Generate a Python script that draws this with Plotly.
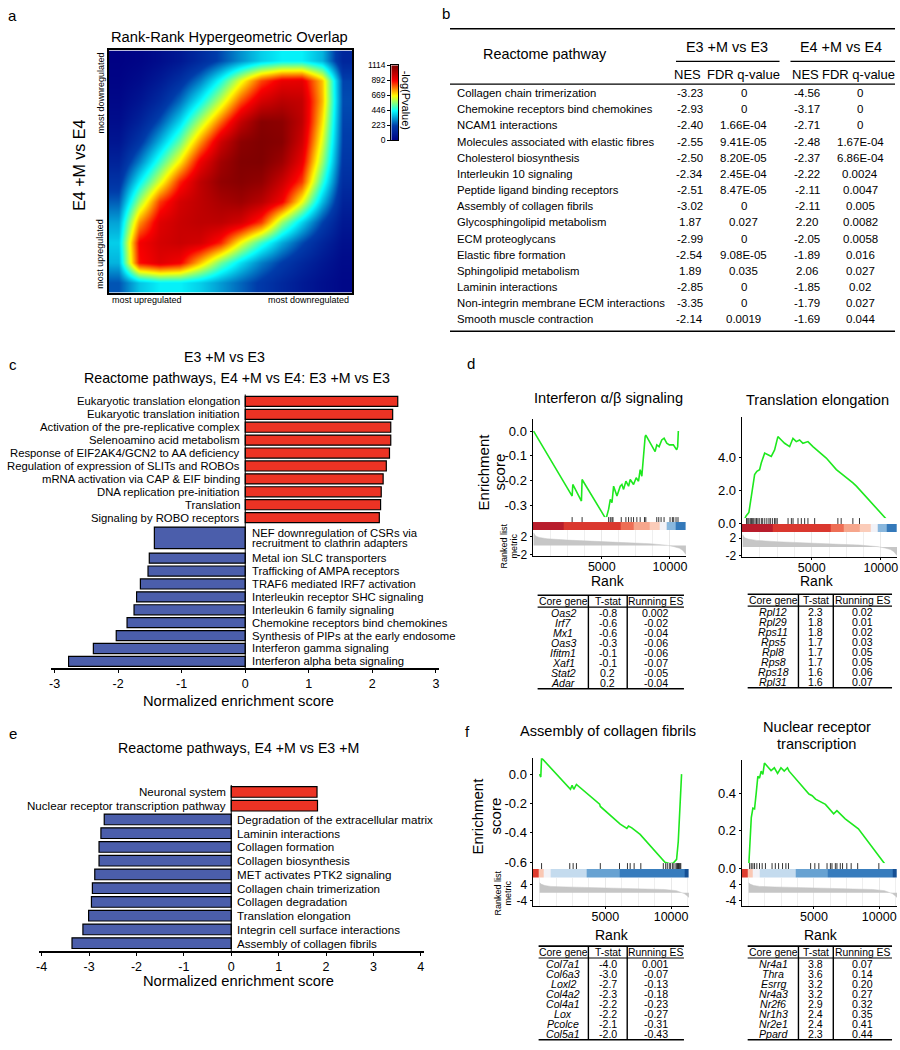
import plotly.graph_objects as go

W, H = 900, 1050
FONT = "Liberation Sans, Arial, Helvetica, sans-serif"

# ---------------- a: RRHO map (-log P), rows bottom -> top
rrho_grid = [
    [250, 380, 430, 430, 390, 330, 270, 210, 150, 100, 60, 30],
    [360, 880, 940, 900, 720, 540, 410, 300, 220, 150, 90, 40],
    [390, 900, 960, 980, 960, 860, 660, 490, 350, 240, 140, 60],
    [340, 760, 940, 980, 1000, 1000, 960, 840, 580, 400, 230, 90],
    [260, 580, 840, 960, 1000, 1040, 1060, 1010, 900, 660, 370, 130],
    [190, 430, 640, 860, 1000, 1080, 1100, 1080, 980, 840, 490, 170],
    [130, 300, 490, 680, 910, 1050, 1110, 1114, 1060, 920, 580, 200],
    [80, 200, 360, 530, 760, 970, 1090, 1114, 1100, 970, 640, 220],
    [50, 130, 250, 400, 600, 800, 990, 1100, 1090, 1000, 690, 230],
    [30, 80, 160, 280, 440, 620, 820, 960, 1010, 990, 730, 240],
    [15, 45, 100, 180, 300, 460, 650, 830, 920, 930, 720, 230],
    [5, 20, 50, 90, 160, 240, 320, 390, 430, 430, 360, 140],
]
cbar_ticks = [0, 223, 446, 669, 892, 1114]

# ---------------- b: table
b_pathways = ["Collagen chain trimerization", "Chemokine receptors bind chemokines",
              "NCAM1 interactions", "Molecules associated with elastic fibres",
              "Cholesterol biosynthesis", "Interleukin 10 signaling",
              "Peptide ligand binding receptors", "Assembly of collagen fibrils",
              "Glycosphingolipid metabolism", "ECM proteoglycans", "Elastic fibre formation",
              "Sphingolipid metabolism", "Laminin interactions",
              "Non-integrin membrane ECM interactions", "Smooth muscle contraction"]
b_nes_e3 = ["-3.23", "-2.93", "-2.40", "-2.55", "-2.50", "-2.34", "-2.51", "-3.02",
            "1.87", "-2.99", "-2.54", "1.89", "-2.85", "-3.35", "-2.14"]
b_fdr_e3 = ["0", "0", "1.66E-04", "9.41E-05", "8.20E-05", "2.45E-04", "8.47E-05", "0",
            "0.027", "0", "9.08E-05", "0.035", "0", "0", "0.0019"]
b_nes_e4 = ["-4.56", "-3.17", "-2.71", "-2.48", "-2.37", "-2.22", "-2.11", "-2.11",
            "2.20", "-2.05", "-1.89", "2.06", "-1.85", "-1.79", "-1.69"]
b_fdr_e4 = ["0", "0", "0", "1.67E-04", "6.86E-04", "0.0024", "0.0047", "0.005",
            "0.0082", "0.0058", "0.016", "0.027", "0.02", "0.027", "0.044"]

# ---------------- c: NES bars
c_labels = ["Eukaryotic translation elongation", "Eukaryotic translation initiation",
            "Activation of the pre-replicative complex", "Selenoamino acid metabolism",
            "Response of EIF2AK4/GCN2 to AA deficiency",
            "Regulation of expression of SLITs and ROBOs",
            "mRNA activation via CAP & EIF binding", "DNA replication pre-initiation",
            "Translation", "Signaling by ROBO receptors",
            "NEF downregulation of CSRs via<br>recruitment to clathrin adapters",
            "Metal ion SLC transporters", "Trafficking of AMPA receptors",
            "TRAF6 mediated IRF7 activation", "Interleukin receptor SHC signaling",
            "Interleukin 6 family signaling", "Chemokine receptors bind chemokines",
            "Synthesis of PIPs at the early endosome", "Interferon gamma signaling",
            "Interferon alpha beta signaling"]
c_nes = [2.40, 2.32, 2.29, 2.29, 2.27, 2.22, 2.17, 2.14, 2.13, 2.11,
         -1.43, -1.51, -1.53, -1.65, -1.71, -1.75, -1.86, -2.03, -2.39, -2.78]

# ---------------- e: NES bars
e_labels = ["Neuronal system", "Nuclear receptor transcription pathway",
            "Degradation of the extracellular matrix", "Laminin interactions",
            "Collagen formation", "Collagen biosynthesis", "MET activates PTK2 signaling",
            "Collagen chain trimerization", "Collagen degradation", "Translation elongation",
            "Integrin cell surface interactions", "Assembly of collagen fibrils"]
e_nes = [1.81, 1.82, -2.68, -2.75, -2.79, -2.79, -2.88, -2.93, -2.95, -3.01, -3.13, -3.36]

# ---------------- d: GSEA (E3 +M vs E3 ranked list)
ifn_rank = [0, 2826, 2875, 3507, 3556, 5259, 5308, 5502, 5624, 5746, 5867, 6111, 6354,
            6476, 6597, 6768, 6963, 7084, 7328, 7522, 7692, 7814, 7936, 8179, 8228, 8909,
            9031, 9201, 9396, 9566, 9761, 9955, 10247, 10490, 10563, 10612]
ifn_es = [0.0, -0.263, -0.216, -0.283, -0.196, -0.349, -0.356, -0.316, -0.276, -0.29,
          -0.223, -0.263, -0.223, -0.216, -0.236, -0.203, -0.223, -0.196, -0.216, -0.189,
          -0.203, -0.156, -0.183, -0.023, -0.016, -0.083, -0.056, -0.063, -0.036, -0.029,
          -0.049, -0.056, -0.056, -0.076, -0.063, 0.0]
ifn_hits = [2826, 3556, 5502, 5624, 5746, 5819, 6427, 6768, 6963, 7157, 7328, 7571, 7814,
            8130, 8228, 9031, 9177, 9347, 9566, 10004, 10174, 10272, 10442, 10588]

tl_rank = [0, 260, 450, 625, 745, 865, 1030, 1225, 1345, 1590, 1830, 2070, 2310, 2550,
           2795, 3035, 3400, 3640, 3880, 4120, 4360, 4725, 5085, 6050, 6780, 7260, 7980,
           8230, 10650]
tl_es = [0.0, 0.44, 0.64, 1.64, 2.24, 2.94, 3.14, 3.24, 3.64, 4.24, 4.14, 4.04, 4.44,
         5.24, 5.04, 4.84, 4.64, 5.14, 4.94, 5.04, 4.84, 4.94, 4.64, 3.94, 3.24, 2.94,
         2.44, 2.24, 0.0]
tl_hits = [280, 370, 450, 550, 630, 700, 800, 900, 1000, 1100, 1200, 1350, 1450, 1600,
           1750, 1900, 2000, 2150, 2300, 2400, 2500, 3285, 3525, 3645, 4005, 4245, 4485,
           4725, 5210, 6890, 7130, 7975, 8455]

d_band_edges = [-70, 2200, 6370, 7340, 8490, 9275, 9760, 10420, 11170]
d_band_levels = [0.97, 0.82, 0.6, 0.4, 0.24, 0.0, -0.24, -0.6]
d_metric_rank = [0, 150, 400, 1000, 2500, 4000, 5600, 7000, 8500, 9300, 9800, 10300,
                 10700, 10950, 11170]
d_metric_val = [2.8, 2.1, 1.8, 1.5, 1.2, 0.95, 0.76, 0.6, 0.42, 0.25, 0.05, -0.25,
                -0.6, -1.1, -2.0]

# ---------------- f: GSEA (E4 +M vs E3 +M ranked list)
col_rank = [0, 90, 150, 2220, 2347, 2473, 2599, 2801, 4567, 4618, 6005, 6132, 6637, 6762,
            7015, 7394, 7646, 9538, 9917, 10169, 10421, 10547, 10724, 10800]
col_es = [0.0, -0.02, 0.11, -0.092, -0.103, -0.076, -0.103, -0.07, -0.204, -0.22, -0.328,
          -0.34, -0.37, -0.354, -0.366, -0.393, -0.41, -0.60, -0.61, -0.605, -0.58,
          -0.46, -0.08, 0.0]
col_hits = [150, 2294, 2551, 2801, 4618, 6079, 6684, 6889, 7191, 7699, 9410, 9591, 9712,
            9864, 9970, 10121, 10220, 10371, 10440, 10500, 10560, 10620, 10680, 10740]

nr_rank = [0, 83, 204, 327, 454, 580, 706, 833, 961, 1088, 1211, 1461, 1718, 1968, 2218,
           2475, 2725, 2975, 3100, 4618, 4868, 5125, 5375, 5881, 6510, 6760, 7396, 7896,
           8403, 10674]
nr_es = [0.0, 0.14, 0.27, 0.32, 0.316, 0.40, 0.49, 0.48, 0.517, 0.50, 0.56, 0.54, 0.52,
         0.535, 0.505, 0.535, 0.517, 0.535, 0.517, 0.395, 0.386, 0.368, 0.36, 0.34, 0.29,
         0.307, 0.263, 0.237, 0.21, 0.0]
nr_hits = [76, 201, 327, 454, 628, 833, 1037, 1287, 1794, 2044, 2294, 2596, 2854, 3051,
           4747, 5069, 5375, 6003, 6260, 6381, 6638, 6760, 7017, 7191, 7517, 7850, 8349,
           9970]

f_band_edges = [-530, -50, 300, 830, 3610, 6080, 11050, 11360]
f_band_levels = [0.8, 0.26, 0.0, -0.1, -0.34, -0.58, -0.84]
f_metric_rank = [0, 150, 400, 850, 2000, 4000, 6100, 8000, 9500, 10400, 10800, 11000,
                 11200, 11360]
f_metric_val = [5.0, 4.2, 3.6, 3.15, 2.9, 2.6, 2.35, 2.0, 1.6, 1.0, 0.2, -0.5, -1.5, -2.4]

# ---------------- core gene tables
ifn_genes = ["Oas2", "Irf7", "Mx1", "Oas3", "Ifitm1", "Xaf1", "Stat2", "Adar"]
ifn_t = ["-0.8", "-0.6", "-0.6", "-0.3", "-0.1", "-0.1", "0.2", "0.2"]
ifn_res = ["0.002", "-0.02", "-0.04", "-0.06", "-0.06", "-0.07", "-0.05", "-0.04"]
tl_genes = ["Rpl12", "Rpl29", "Rps11", "Rps5", "Rpl8", "Rps8", "Rps18", "Rpl31"]
tl_t = ["2.3", "1.8", "1.8", "1.7", "1.7", "1.7", "1.6", "1.6"]
tl_res = ["0.02", "0.01", "0.02", "0.03", "0.05", "0.05", "0.06", "0.07"]
col_genes = ["Col7a1", "Col6a3", "Loxl2", "Col4a2", "Col4a1", "Lox", "Pcolce", "Col5a1"]
col_t = ["-4.0", "-3.0", "-2.7", "-2.3", "-2.2", "-2.2", "-2.1", "-2.0"]
col_res = ["0.001", "-0.07", "-0.13", "-0.18", "-0.23", "-0.27", "-0.31", "-0.43"]
nr_genes = ["Nr4a1", "Thra", "Esrrg", "Nr4a3", "Nr2f6", "Nr1h3", "Nr2e1", "Ppard"]
nr_t = ["3.8", "3.6", "3.2", "3.2", "2.9", "2.4", "2.4", "2.3"]
nr_res = ["0.07", "0.14", "0.20", "0.27", "0.32", "0.35", "0.41", "0.44"]

RED = "#ec3324"
BLUE = "#4b5eab"
BAND_CS = [[0.0, "#08306b"], [0.12, "#1c5fa8"], [0.22, "#3a7fbf"], [0.35, "#6fa8d6"],
           [0.45, "#c4dbee"], [0.5, "#f2f2f7"], [0.6, "#fcd5c4"], [0.7, "#f6a68c"],
           [0.8, "#ee6e55"], [0.9, "#de3c2f"], [1.0, "#b1182b"]]

fig = go.Figure()
ann, shapes, axes = [], [], {}


def X(x):
    return x / W


def Y(y):
    return 1 - y / H


def note(x, y, text, size=12, xa="center", ya="middle", angle=0, **kw):
    ann.append(dict(x=X(x), y=Y(y), xref="paper", yref="paper", text=text, showarrow=False,
                    font=dict(size=size, family=FONT, color="black"), xanchor=xa,
                    yanchor=ya, textangle=angle, **kw))


def seg(x0, y0, x1, y1, w=1.0):
    shapes.append(dict(type="line", xref="paper", yref="paper", x0=X(x0), y0=Y(y0),
                       x1=X(x1), y1=Y(y1), line=dict(color="black", width=w)))


BASE = dict(showgrid=False, zeroline=False, showline=False, ticks="", showticklabels=False)


def axpair(n, x0, x1, top, bot, xkw=None, ykw=None):
    s = "" if n == 1 else str(n)
    xa = dict(BASE, domain=[X(x0), X(x1)], anchor="y" + s)
    xa.update(xkw or {})
    ya = dict(BASE, domain=[Y(bot), Y(top)], anchor="x" + s)
    ya.update(ykw or {})
    axes["xaxis" + s] = xa
    axes["yaxis" + s] = ya
    return "x" + s, "y" + s


# ================= panel a
box = dict(showline=True, mirror=True, linecolor="black", linewidth=1.5, range=[-0.5, 11.5])
xa, ya = axpair(1, 106, 351, 46, 291, box, box)
fig.add_trace(go.Heatmap(z=rrho_grid, colorscale="Jet", zmin=0, zmax=1114, zsmooth="best",
                         showscale=False, xaxis=xa, yaxis=ya, hoverinfo="skip"))
xa, ya = axpair(16, 390, 397, 61, 137,
                dict(range=[-0.5, 1.5], showline=True, mirror=True, linecolor="black", linewidth=1),
                dict(range=[0, 1114], tickvals=cbar_ticks, showticklabels=True, ticks="outside",
                     ticklen=3, tickcolor="black", tickfont=dict(size=8.5), showline=True,
                     mirror=True, linecolor="black", linewidth=1))
fig.add_trace(go.Heatmap(z=[[v, v] for v in cbar_ticks], x=[0, 1], y=cbar_ticks,
                         colorscale="Jet", zmin=0, zmax=1114, zsmooth="best", showscale=False,
                         xaxis=xa, yaxis=ya, hoverinfo="skip"))
note(10, 11, "a", 15)
note(228, 32, "Rank-Rank Hypergeometric Overlap", 14.7)
note(76, 162, "E4 +M vs E4", 16, angle=-90)
note(98, 89, "most downregulated", 9, angle=-90)
note(98, 252, "most upregulated", 9, angle=-90)
note(107, 298, "most upregulated", 9, xa="left")
note(350, 298, "most downregulated", 9, xa="right")
note(405, 96, "-log(Pvalue)", 11, angle=90)

# ================= panel b
note(445, 9, "b", 15)
seg(449, 24, 896, 24, 1.6)
note(544, 50, "Reactome pathway", 14.4)
note(727, 42, "E3 +M vs E3", 14.4)
note(842, 42, "E4 +M vs E4", 14.4)
seg(676, 57, 780, 57, 1.3)
seg(791, 57, 896, 57, 1.3)
for cx, t in zip([688, 744, 806, 859], ["NES", "FDR q-value", "NES", "FDR q-value"]):
    note(cx, 70, t, 13)
seg(449, 80, 896, 80, 1.3)
for i, name in enumerate(b_pathways):
    yy = 89 + i * 16.36
    note(454, yy, name, 11.3, xa="left")
    note(690, yy, b_nes_e3[i], 11.5)
    note(744, yy, b_fdr_e3[i], 11.5)
    note(808, yy, b_nes_e4[i], 11.5)
    note(861, yy, b_fdr_e4[i], 11.5)
seg(449, 330, 896, 330, 1.6)


# ================= bar panels c and e
def bar_positions(labels, tall=2.14):
    pos, y, prev = [], 0.0, 1.0
    for i, lab in enumerate(labels):
        h = tall if "<br>" in lab else 1.0
        if i:
            y += (prev + h) / 2
        pos.append(y)
        prev = h
    return pos


def bar_panel(n, labels, nes, x0, x1, top, bot, first_c, last_c, xr, ticks, size, lshift, rshift):
    pos = bar_positions(labels)
    slot = (last_c - first_c) / pos[-1]
    yr = [pos[-1] + (bot - last_c) / slot, -(first_c - top) / slot]
    xa, ya = axpair(n, x0, x1, top, bot,
                    dict(range=xr, tickvals=ticks, ticktext=[str(t) for t in ticks],
                         showticklabels=True, ticks="outside", ticklen=3, tickwidth=1.2,
                         tickcolor="black", showline=True, linecolor="black", linewidth=1.5,
                         tickfont=dict(size=12.5)),
                    dict(range=yr))
    widths = [1.68 if "<br>" in l else 0.78 for l in labels]
    fig.add_trace(go.Bar(x=nes, y=pos, orientation="h", width=widths,
                         marker=dict(color=[RED if v > 0 else BLUE for v in nes],
                                     line=dict(color="black", width=1.2)),
                         xaxis=xa, yaxis=ya, hoverinfo="skip"))
    shapes.append(dict(type="line", xref=xa, yref=ya + " domain", x0=0, x1=0, y0=0, y1=1,
                       line=dict(color="black", width=1)))
    for lab, v, p in zip(labels, nes, pos):
        lines = lab.split("<br>")
        shifts = [0] if len(lines) == 1 else [4.8, -4.8]
        for ln, ys in zip(lines, shifts):
            ann.append(dict(x=0, y=p, xref=xa, yref=ya, text=ln, showarrow=False,
                            xanchor="right" if v > 0 else "left",
                            xshift=lshift if v > 0 else rshift, yshift=ys,
                            font=dict(size=size, family=FONT, color="black")))


bar_panel(2, c_labels, c_nes, 48, 438, 394, 671, 401, 664, [-3.06, 3.05],
          [-3, -2, -1, 0, 1, 2, 3], 11.3, -3.5, 5)
note(10, 364, "c", 15)
note(222, 356, "E3 +M vs E3", 14.2)
note(235, 377, "Reactome pathways, E4 +M vs E4: E3 +M vs E3", 14.2)
note(237, 704, "Normalized enrichment score", 14.7)

bar_panel(3, e_labels, e_nes, 36, 423, 789, 957, 796, 949, [-4.06, 4.07],
          [-4, -3, -2, -1, 0, 1, 2, 3, 4], 11.6, -3.5, 3.5)
note(10, 737, "e", 15)
note(237, 752, "Reactome pathways, E4 +M vs E3 +M", 14.2)
note(237, 987, "Normalized enrichment score", 14.7)


# ================= GSEA panels d and f
def gsea(n, x0, x1, es_top, tick_top, band_top, band_bot, met_bot, xr,
         es_rank, es_val, es_rng, es_ticks, hits, edges, levels, m_rank, m_val, m_rng, m_ticks):
    tickstyle = dict(showticklabels=True, ticks="outside", ticklen=2, tickcolor="black",
                     showline=True, linecolor="black", linewidth=1.2)
    xa, ya = axpair(n, x0, x1, es_top, band_top,
                    dict(range=xr, showline=True, linecolor="#333", linewidth=1),
                    dict(tickstyle, range=es_rng, tickvals=es_ticks,
                         ticktext=["%.1f" % t for t in es_ticks], tickfont=dict(size=13)))
    fig.add_trace(go.Scatter(x=es_rank, y=es_val, mode="lines",
                             line=dict(color="#1ee81e", width=1.6), xaxis=xa, yaxis=ya))
    top_val = (band_bot - tick_top) / (band_bot - band_top)
    xb, yb = axpair(n + 1, x0, x1, tick_top, band_bot, dict(range=xr),
                    dict(range=[0, top_val], showline=True, linecolor="black", linewidth=1.2))
    fig.add_trace(go.Heatmap(x=edges, y=[0, 1], z=[levels], colorscale=BAND_CS, zmin=-1,
                             zmax=1, showscale=False, xaxis=xb, yaxis=yb, hoverinfo="skip"))
    hx, hy = [], []
    for h in hits:
        hx += [h, h, None]
        hy += [1, top_val, None]
    fig.add_trace(go.Scatter(x=hx, y=hy, mode="lines", line=dict(color="rgba(0,0,0,0.8)", width=1),
                             xaxis=xb, yaxis=yb))
    xm, ym = axpair(n + 2, x0, x1, band_bot, met_bot,
                    dict(tickstyle, range=xr, tickvals=[5000, 10000],
                         ticktext=["5000", "10000"], tickfont=dict(size=12.5),
                         ticklabelstandoff=-3,
                         showgrid=True, gridcolor="#e9e9e9",
                         minor=dict(dtick=1250, tick0=0, showgrid=True, gridcolor="#efefef")),
                    dict(tickstyle, range=m_rng, tickvals=m_ticks,
                         ticktext=[str(t) for t in m_ticks], tickfont=dict(size=12)))
    fig.add_trace(go.Scatter(x=m_rank, y=m_val, mode="lines", fill="tozeroy",
                             fillcolor="#c6c6c6", line=dict(color="#c6c6c6", width=0.5),
                             xaxis=xm, yaxis=ym))


gsea(4, 532, 686, 419, 518, 523, 531, 557, [-70, 11170], ifn_rank, ifn_es,
     [-0.368, 0.048], [0, -0.1, -0.2, -0.3], ifn_hits, d_band_edges, d_band_levels,
     d_metric_rank, d_metric_val, [-2.23, 3.45], [2, -2])
gsea(7, 742, 898, 417, 519, 525, 533, 558, [-70, 11170], tl_rank, tl_es,
     [-0.06, 6.42], [0, 2, 4], tl_hits, d_band_edges, d_band_levels,
     d_metric_rank, d_metric_val, [-2.23, 3.45], [2, -2])
gsea(10, 532, 689, 762, 868, 874, 882.7, 911.7, [-530, 11360], col_rank, col_es,
     [-0.646, 0.108], [0, -0.2, -0.4, -0.6], col_hits, f_band_edges, f_band_levels,
     f_metric_rank, f_metric_val, [-6.9, 7.6], [4, -4])
gsea(13, 742, 898, 764, 868, 874, 882.7, 911.7, [-530, 11360], nr_rank, nr_es,
     [-0.004, 0.575], [0, 0.2, 0.4], nr_hits, f_band_edges, f_band_levels,
     f_metric_rank, f_metric_val, [-6.9, 7.6], [4, -4])

note(470, 363, "d", 15)
note(608, 398, "Interferon α/β signaling", 14.6)
note(818, 400, "Translation elongation", 14.6)
note(483, 472, "Enrichment", 15, angle=-90)
note(499, 472, "score", 15, angle=-90)
note(503, 547, "Ranked list", 9, angle=-90)
note(513, 547, "metric", 9, angle=-90)
note(608, 583, "Rank", 14)
note(818, 583, "Rank", 14)

note(467, 735, "f", 15)
note(608, 734, "Assembly of collagen fibrils", 14.6)
note(818, 730, "Nuclear receptor", 14.6)
note(818, 748, "transcription", 14.6)
note(477, 820, "Enrichment", 15, angle=-90)
note(495, 820, "score", 15, angle=-90)
note(497, 898, "Ranked list", 9, angle=-90)
note(507, 898, "metric", 9, angle=-90)
note(612, 941, "Rank", 14)
note(822, 941, "Rank", 14)


def small_table(left, v1, v2, right, top, genes, tstat, res):
    bottom = top + 94.7
    seg(left, top, right, top, 1.6)
    seg(left, top + 12, right, top + 12, 1.2)
    seg(left, bottom, right, bottom, 1.6)
    seg(v1, top, v1, bottom, 1.4)
    seg(v2, top, v2, bottom, 1.4)
    cx = [(left + v1) / 2, (v1 + v2) / 2, (v2 + right) / 2]
    for c, t in zip(cx, ["Core gene", "T-stat", "Running ES"]):
        note(c, top + 6.5, t, 10.4)
    for i in range(len(genes)):
        yy = top + 18 + i * 10.1
        note(cx[0], yy, "<i>%s</i>" % genes[i], 10.6)
        note(cx[1], yy, tstat[i], 10.6)
        note(cx[2], yy, res[i], 10.6)


small_table(537, 588, 627, 684, 597, ifn_genes, ifn_t, ifn_res)
small_table(748, 799, 834, 893, 596, tl_genes, tl_t, tl_res)
small_table(538, 588, 627, 684, 952, col_genes, col_t, col_res)
small_table(748, 799, 834, 893, 952, nr_genes, nr_t, nr_res)

fig.update_layout(width=W, height=H, margin=dict(l=0, r=0, t=0, b=0),
                  paper_bgcolor="white", plot_bgcolor="white", showlegend=False,
                  hovermode=False, font=dict(family=FONT, color="black"),
                  annotations=ann, shapes=shapes, **axes)

fig.write_html("out.html", config={"displayModeBar": False},
               post_script="document.body.style.margin='0px';document.body.style.padding='0px';")
